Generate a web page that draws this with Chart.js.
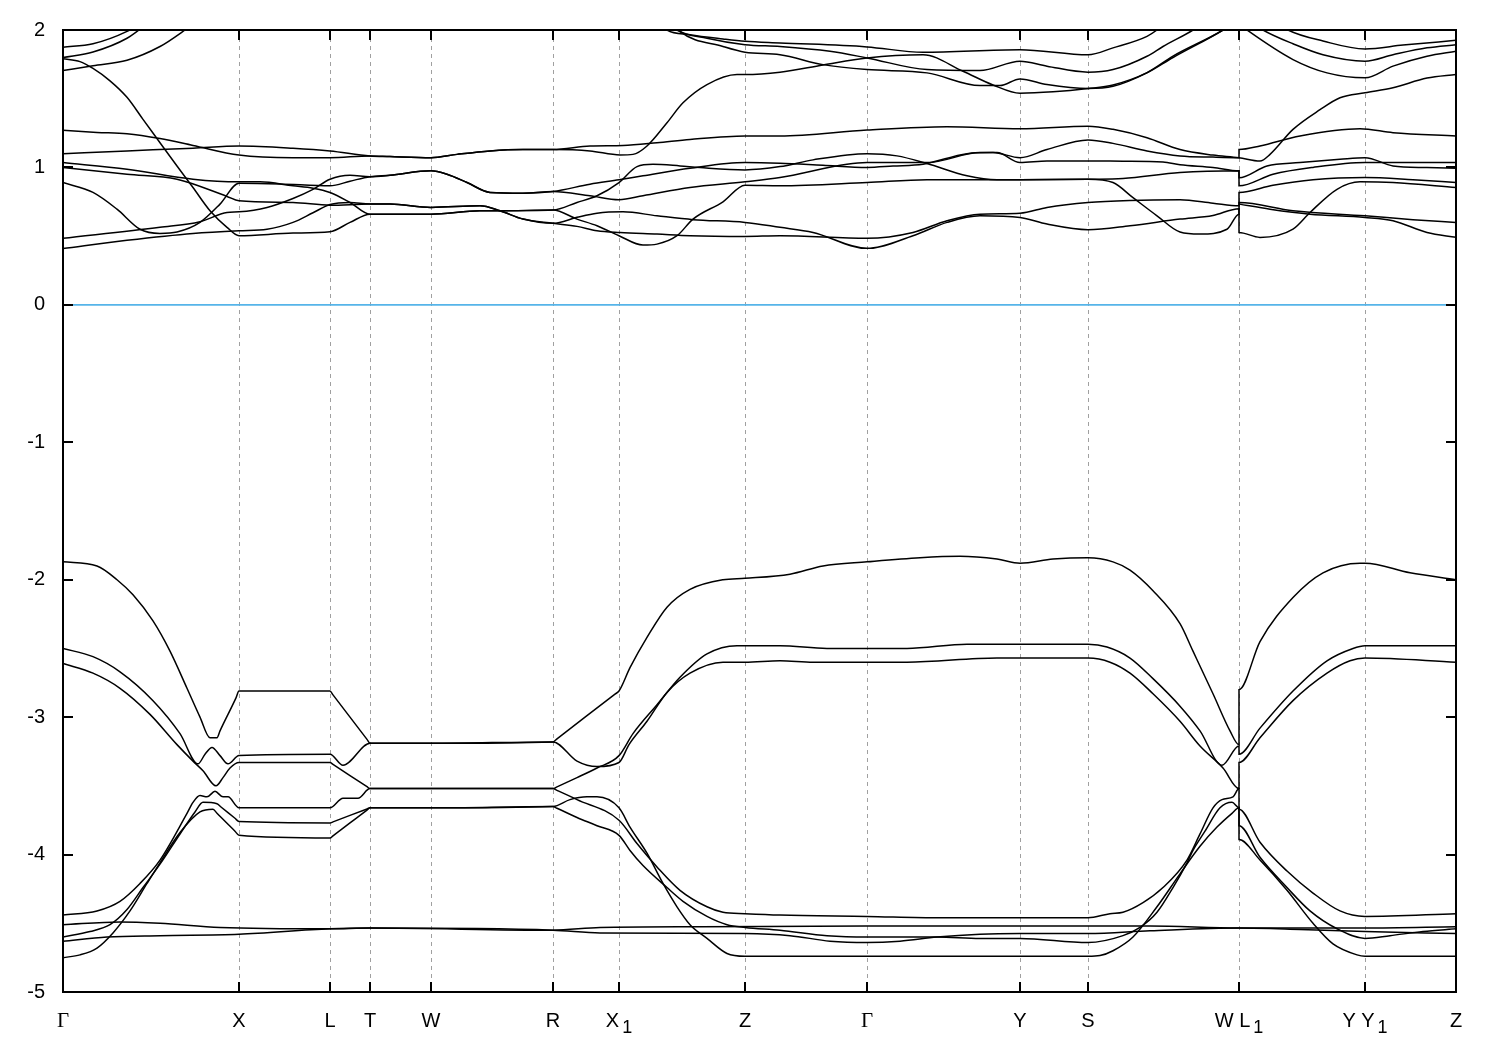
<!DOCTYPE html>
<html><head><meta charset="utf-8">
<script src="https://cdn.jsdelivr.net/npm/chart.js@4.4.1/dist/chart.umd.min.js"></script>
<style>html,body{margin:0;padding:0;background:#fff}#wrap{width:1500px;height:1050px}</style>
</head><body><div id="wrap"><canvas id="c" width="1500" height="1050"></canvas></div>
<script>
// high-symmetry path positions and labels
const kPos = [0,176,267,307,368,490,556,682,804,957,1025,1176,1302,1393];
const kNames = ['Γ','X','L','T','W','R','X₁','Z','Γ','Y','S','W L₁','Y Y₁','Z'];
const yTicks = [-5,-4,-3,-2,-1,0,1,2];
const fermiLevel = 0;

// valence bands [k, E]
const vb1 = [[0,-1.87],[34,-1.90],[54,-2.00],[70,-2.11],[90,-2.30],[107,-2.52],[124,-2.79],[137,-3.00],[147,-3.15],[154,-3.15],[157,-3.10],[173,-2.86],[176,-2.81],[267,-2.81],[270,-2.838],[304,-3.162],[307,-3.19],[368,-3.19],[490,-3.18],[494,-3.158],[552,-2.832],[556,-2.81],[567,-2.64],[584,-2.42],[604,-2.20],[627,-2.07],[660,-2.00],[682,-1.99],[727,-1.96],[760,-1.90],[804,-1.87],[857,-1.84],[897,-1.83],[934,-1.85],[957,-1.88],[990,-1.85],[1025,-1.84],[1050,-1.87],[1067,-1.93],[1090,-2.08],[1117,-2.32],[1130,-2.52],[1150,-2.83],[1167,-3.10],[1176,-3.20],[1176,-2.80],[1197,-2.45],[1230,-2.13],[1260,-1.95],[1297,-1.88],[1302,-1.88],[1347,-1.95],[1393,-2.00]];
const vb2 = [[0,-2.50],[30,-2.56],[57,-2.67],[90,-2.88],[117,-3.12],[135,-3.34],[142,-3.27],[149,-3.22],[157,-3.28],[165,-3.34],[176,-3.28],[267,-3.27],[280,-3.35],[307,-3.19],[368,-3.19],[490,-3.18],[514,-3.32],[534,-3.36],[556,-3.33],[566,-3.20],[584,-3.03],[604,-2.82],[627,-2.68],[660,-2.60],[682,-2.60],[717,-2.59],[750,-2.60],[844,-2.60],[934,-2.57],[1025,-2.57],[1047,-2.60],[1067,-2.68],[1090,-2.83],[1117,-3.03],[1137,-3.21],[1160,-3.37],[1176,-3.52],[1176,-3.33],[1197,-3.15],[1230,-2.88],[1264,-2.68],[1287,-2.59],[1302,-2.57],[1393,-2.60]];
const vb3 = [[0,-2.61],[30,-2.68],[57,-2.79],[87,-2.98],[114,-3.20],[130,-3.32],[140,-3.39],[153,-3.50],[160,-3.44],[167,-3.37],[176,-3.33],[267,-3.33],[270,-3.344],[304,-3.506],[307,-3.52],[368,-3.52],[490,-3.52],[494,-3.507],[514,-3.44],[534,-3.37],[556,-3.28],[570,-3.12],[594,-2.91],[617,-2.71],[644,-2.54],[674,-2.48],[682,-2.48],[717,-2.48],[764,-2.50],[844,-2.50],[904,-2.47],[1025,-2.47],[1044,-2.49],[1067,-2.57],[1090,-2.72],[1117,-2.92],[1137,-3.10],[1159,-3.35],[1176,-3.21],[1176,-3.27],[1197,-3.08],[1230,-2.81],[1264,-2.59],[1290,-2.50],[1302,-2.48],[1393,-2.48]];
const vb4 = [[0,-4.44],[34,-4.41],[57,-4.34],[77,-4.21],[97,-4.04],[124,-3.70],[130,-3.62],[137,-3.57],[144,-3.58],[152,-3.54],[160,-3.58],[165,-3.58],[176,-3.66],[267,-3.66],[280,-3.59],[295,-3.59],[307,-3.52],[368,-3.52],[490,-3.52],[494,-3.533],[514,-3.60],[556,-3.75],[574,-3.92],[594,-4.09],[617,-4.26],[644,-4.38],[660,-4.42],[682,-4.43],[717,-4.44],[804,-4.45],[877,-4.46],[1025,-4.46],[1047,-4.43],[1060,-4.42],[1080,-4.35],[1100,-4.24],[1124,-4.04],[1137,-3.85],[1150,-3.66],[1159,-3.60],[1170,-3.58],[1176,-3.52],[1176,-3.67],[1197,-3.91],[1224,-4.12],[1250,-4.28],[1277,-4.41],[1302,-4.45],[1393,-4.43]];
const vb5 = [[0,-4.60],[27,-4.56],[47,-4.51],[64,-4.40],[80,-4.24],[97,-4.07],[117,-3.85],[132,-3.69],[140,-3.62],[154,-3.63],[158,-3.654],[172,-3.736],[176,-3.76],[267,-3.77],[270,-3.762],[304,-3.668],[307,-3.66],[368,-3.66],[490,-3.65],[507,-3.60],[524,-3.58],[534,-3.58],[556,-3.66],[567,-3.80],[584,-3.99],[600,-4.21],[614,-4.38],[627,-4.51],[644,-4.61],[664,-4.72],[682,-4.74],[804,-4.74],[1025,-4.74],[1037,-4.735],[1050,-4.70],[1070,-4.60],[1094,-4.38],[1117,-4.14],[1137,-3.94],[1154,-3.80],[1169,-3.70],[1176,-3.66],[1176,-3.89],[1197,-4.04],[1224,-4.26],[1250,-4.50],[1270,-4.65],[1294,-4.73],[1302,-4.74],[1393,-4.74]];
const vb6 = [[0,-4.75],[17,-4.73],[34,-4.68],[50,-4.57],[67,-4.41],[84,-4.21],[97,-4.06],[117,-3.84],[137,-3.69],[150,-3.67],[154,-3.70],[172,-3.83],[176,-3.86],[267,-3.88],[270,-3.864],[304,-3.676],[307,-3.66],[368,-3.66],[490,-3.65],[494,-3.663],[514,-3.73],[534,-3.79],[556,-3.86],[567,-3.97],[580,-4.08],[604,-4.24],[620,-4.34],[644,-4.45],[664,-4.51],[682,-4.53],[717,-4.55],[764,-4.59],[804,-4.60],[874,-4.60],[917,-4.61],[957,-4.61],[1025,-4.64],[1060,-4.59],[1077,-4.53],[1094,-4.42],[1110,-4.24],[1124,-4.06],[1130,-3.97],[1142,-3.83],[1157,-3.66],[1169,-3.62],[1176,-3.66],[1176,-3.79],[1197,-4.02],[1224,-4.24],[1247,-4.41],[1274,-4.54],[1302,-4.61],[1327,-4.59],[1360,-4.56],[1393,-4.54]];
const vb7 = [[0,-4.51],[57,-4.49],[97,-4.50],[157,-4.53],[267,-4.54],[307,-4.535],[490,-4.55],[537,-4.53],[637,-4.525],[804,-4.52],[1087,-4.52],[1176,-4.535],[1302,-4.535],[1393,-4.525]];
const vb8 = [[0,-4.63],[44,-4.60],[97,-4.59],[176,-4.58],[267,-4.54],[307,-4.535],[490,-4.55],[537,-4.57],[682,-4.575],[727,-4.59],[767,-4.63],[804,-4.64],[837,-4.63],[874,-4.60],[917,-4.58],[957,-4.575],[1025,-4.575],[1087,-4.555],[1176,-4.535],[1237,-4.545],[1302,-4.56],[1393,-4.575]];

// conduction bands [k, E]
const cb1 = [[0,0.41],[64,0.47],[130,0.52],[176,0.54],[204,0.55],[230,0.60],[250,0.67],[267,0.73],[287,0.745],[307,0.733],[327,0.733],[368,0.709],[417,0.721],[437,0.685],[460,0.624],[490,0.593],[514,0.571],[534,0.54],[557,0.527],[594,0.515],[627,0.503],[682,0.498],[717,0.503],[804,0.484],[850,0.527],[884,0.612],[917,0.66],[957,0.667],[984,0.709],[1025,0.745],[1067,0.76],[1117,0.765],[1150,0.74],[1176,0.721],[1176,0.745],[1230,0.685],[1302,0.648],[1350,0.62],[1393,0.60]];
const cb2 = [[0,0.484],[97,0.564],[137,0.605],[164,0.672],[176,0.677],[204,0.709],[230,0.774],[250,0.84],[267,0.914],[287,0.943],[307,0.933],[327,0.943],[368,0.975],[384,0.95],[404,0.89],[427,0.818],[460,0.812],[490,0.825],[527,0.878],[556,0.91],[580,0.939],[627,0.994],[682,1.035],[717,1.03],[760,1.015],[804,1.0],[830,1.01],[860,1.023],[904,1.10],[930,1.108],[957,1.071],[984,1.13],[1025,1.20],[1050,1.175],[1084,1.12],[1117,1.084],[1150,1.075],[1176,1.071],[1176,1.13],[1197,1.156],[1237,1.229],[1297,1.282],[1330,1.253],[1393,1.229]];
const cb3 = [[0,0.89],[30,0.818],[54,0.696],[77,0.55],[97,0.52],[114,0.53],[137,0.60],[157,0.733],[176,0.885],[217,0.88],[267,0.866],[287,0.90],[307,0.933],[327,0.943],[368,0.975],[384,0.95],[404,0.89],[427,0.818],[460,0.812],[490,0.825],[527,0.794],[556,0.765],[580,0.794],[627,0.854],[682,0.895],[717,0.926],[784,1.023],[804,1.035],[864,1.035],[917,1.108],[934,1.108],[957,1.035],[984,1.047],[1025,1.047],[1060,1.045],[1100,1.04],[1117,1.02],[1150,1.0],[1176,0.975],[1176,0.925],[1204,1.011],[1237,1.035],[1277,1.059],[1302,1.071],[1330,1.011],[1364,0.999],[1393,0.994]];
const cb4 = [[0,1.0],[64,0.95],[114,0.914],[164,0.789],[176,0.757],[230,0.745],[267,0.725],[307,0.733],[327,0.733],[368,0.709],[417,0.721],[437,0.685],[460,0.624],[490,0.593],[514,0.637],[534,0.667],[560,0.677],[594,0.648],[630,0.62],[682,0.60],[717,0.564],[750,0.527],[804,0.411],[850,0.503],[884,0.60],[917,0.648],[957,0.636],[984,0.588],[1025,0.547],[1067,0.576],[1117,0.624],[1150,0.65],[1176,0.70],[1176,0.527],[1197,0.491],[1230,0.551],[1247,0.672],[1274,0.841],[1297,0.895],[1330,0.89],[1393,0.854]];
const cb5 = [[0,1.035],[64,0.987],[130,0.914],[176,0.895],[197,0.895],[230,0.866],[250,0.849],[267,0.818],[287,0.745],[307,0.66],[368,0.66],[417,0.685],[437,0.685],[490,0.69],[514,0.745],[534,0.794],[556,0.89],[574,1.006],[590,1.023],[617,1.011],[637,0.999],[682,0.982],[717,1.006],[750,1.055],[804,1.10],[834,1.084],[864,1.028],[904,0.939],[934,0.91],[957,0.91],[1025,0.914],[1060,0.92],[1117,0.963],[1176,0.975],[1176,0.866],[1210,0.95],[1250,1.0],[1302,1.035],[1350,1.035],[1393,1.035]];
const cb6 = [[0,1.10],[64,1.12],[130,1.14],[176,1.156],[230,1.14],[267,1.12],[307,1.084],[327,1.079],[368,1.071],[394,1.095],[427,1.12],[460,1.13],[490,1.13],[527,1.12],[557,1.091],[570,1.095],[584,1.156],[604,1.325],[620,1.47],[644,1.603],[674,1.676],[682,1.676],[717,1.693],[760,1.746],[804,1.797],[860,1.82],[900,1.70],[930,1.60],[957,1.54],[990,1.55],[1025,1.574],[1050,1.60],[1084,1.69],[1110,1.81],[1160,2.0],[1170,2.05]];
const cb7 = [[0,1.27],[34,1.255],[64,1.245],[97,1.21],[130,1.16],[176,1.09],[230,1.071],[267,1.071],[307,1.084],[327,1.079],[368,1.071],[394,1.095],[427,1.12],[460,1.13],[490,1.13],[527,1.156],[560,1.16],[594,1.18],[627,1.204],[682,1.229],[717,1.229],[804,1.272],[884,1.296],[957,1.282],[1025,1.30],[1050,1.277],[1084,1.216],[1117,1.13],[1150,1.09],[1176,1.071],[1197,1.047],[1207,1.095],[1230,1.277],[1257,1.42],[1277,1.507],[1302,1.543],[1330,1.58],[1364,1.65],[1393,1.676]];
const cb8 = [[0,1.79],[17,1.77],[30,1.72],[47,1.63],[64,1.51],[80,1.35],[97,1.18],[114,1.01],[130,0.854],[147,0.685],[164,0.564],[176,0.503],[230,0.522],[267,0.532],[287,0.60],[307,0.66],[368,0.66],[417,0.685],[437,0.685],[490,0.69],[514,0.624],[534,0.576],[556,0.503],[580,0.435],[594,0.442],[614,0.503],[630,0.624],[660,0.75],[682,0.87],[717,0.866],[804,0.89],[864,0.91],[957,0.91],[1025,0.914],[1050,0.89],[1070,0.78],[1094,0.648],[1117,0.53],[1137,0.515],[1164,0.55],[1176,0.66],[1176,0.818],[1210,0.87],[1250,0.91],[1302,0.926],[1350,0.91],[1393,0.89]];
const cb9 = [[0,1.705],[30,1.74],[64,1.78],[97,1.88],[120,1.99],[140,2.1]];
const cb10 = [[0,1.80],[30,1.84],[64,1.94],[85,2.05]];
const cb11 = [[0,1.875],[30,1.90],[64,1.99],[80,2.06]];
const cb12 = [[590,2.1],[604,2.0],[627,1.966],[660,1.935],[682,1.918],[717,1.906],[804,1.877],[860,1.838],[957,1.857],[1025,1.82],[1050,1.87],[1084,1.954],[1094,2.0],[1110,2.1]];
const cb13 = [[600,2.1],[614,2.0],[644,1.94],[682,1.893],[717,1.88],[767,1.845],[804,1.797],[864,1.712],[917,1.705],[957,1.773],[984,1.737],[1025,1.693],[1050,1.712],[1084,1.809],[1100,1.88],[1130,2.0],[1140,2.05]];
const cb14 = [[605,2.1],[617,1.99],[660,1.88],[682,1.838],[717,1.82],[760,1.748],[804,1.712],[864,1.688],[917,1.596],[937,1.596],[957,1.644],[984,1.603],[1025,1.574],[1050,1.59],[1084,1.688],[1110,1.80],[1160,2.0],[1170,2.05]];
const cb15 = [[1190,2.05],[1200,2.0],[1230,1.90],[1260,1.82],[1302,1.773],[1330,1.82],[1364,1.87],[1393,1.893]];
const cb16 = [[1215,2.05],[1225,2.0],[1260,1.92],[1302,1.862],[1340,1.89],[1393,1.925]];
const cb17 = [[1175,2.05],[1184,2.0],[1230,1.785],[1264,1.688],[1302,1.652],[1330,1.737],[1364,1.809],[1393,1.845]];
const cb18 = [[1176,0.733],[1207,0.696],[1247,0.66],[1302,0.636],[1330,0.612],[1364,0.527],[1393,0.491]];

const bands = [vb1,vb2,vb3,vb4,vb5,vb6,vb7,vb8,cb1,cb2,cb3,cb4,cb5,cb6,cb7,cb8,cb9,cb10,cb11,cb12,cb13,cb14,cb15,cb16,cb17,cb18];

const datasets = [{
  data: [{x:kPos[0],y:fermiLevel},{x:kPos[kPos.length-1],y:fermiLevel}],
  borderColor:'#56B4E9', borderWidth:1.6, pointRadius:0, tension:0, fill:false
}].concat(bands.map(b => ({
  data: b.map(p => ({x:p[0], y:p[1]})),
  borderColor:'#000', borderWidth:1.5, pointRadius:0, fill:false,
  cubicInterpolationMode:'monotone'
})));

function drawLabel(ctx, text, cx, base){
  const segs = [];
  for (const ch of text){
    const sub = ch === '₁';
    const t = sub ? '1' : ch;
    const last = segs[segs.length-1];
    if (last && last.sub === sub && !sub && ch !== 'Γ' && last.t !== 'Γ') last.t += t;
    else segs.push({t, sub});
  }
  const fontFor = s => s.sub ? '18px "Liberation Sans"' : (s.t === 'Γ' ? '21px "Liberation Serif"' : '20px "Liberation Sans"');
  let total = 0;
  segs.forEach(s => { ctx.font = fontFor(s); s.w = ctx.measureText(s.t).width + (s.sub ? 3 : 0); total += s.w; });
  let xx = cx - total/2;
  segs.forEach(s => { ctx.font = fontFor(s); ctx.fillText(s.t, xx + (s.sub ? 3 : 0), base + (s.sub ? 6 : 0)); xx += s.w; });
}

const frame = {
  id:'frame',
  beforeDatasetsDraw(chart){
    const {ctx, chartArea:a, scales:{x}} = chart;
    ctx.save();
    ctx.strokeStyle = '#a0a0a0'; ctx.lineWidth = 1; ctx.setLineDash([4,4]);
    kPos.forEach(k => {
      const px = Math.round(x.getPixelForValue(k)) + 0.5;
      if (px <= a.left + 2 || px >= a.right - 2) return;
      ctx.beginPath(); ctx.moveTo(px, a.top); ctx.lineTo(px, a.bottom); ctx.stroke();
    });
    ctx.restore();
  },
  afterDatasetsDraw(chart){
    const {ctx, chartArea:a, scales:{x, y}} = chart;
    ctx.save();
    ctx.strokeStyle = '#000'; ctx.lineWidth = 2; ctx.setLineDash([]);
    ctx.strokeRect(a.left, a.top, a.right - a.left, a.bottom - a.top);
    ctx.beginPath();
    yTicks.forEach(v => {
      const py = Math.round(y.getPixelForValue(v));
      ctx.moveTo(a.left, py); ctx.lineTo(a.left + 10, py);
      ctx.moveTo(a.right, py); ctx.lineTo(a.right - 10, py);
    });
    kPos.forEach(k => {
      const px = Math.round(x.getPixelForValue(k));
      ctx.moveTo(px, a.bottom); ctx.lineTo(px, a.bottom - 10);
      ctx.moveTo(px, a.top); ctx.lineTo(px, a.top + 10);
    });
    ctx.stroke();
    ctx.fillStyle = '#000'; ctx.textBaseline = 'alphabetic';
    kNames.forEach((n, i) => drawLabel(ctx, n, x.getPixelForValue(kPos[i]), 1027));
    ctx.restore();
  }
};

new Chart(document.getElementById('c'), {
  type:'line',
  data:{datasets},
  options:{
    responsive:false, animation:false, events:[],
    layout:{padding:{left:0, right:44, top:27, bottom:0}},
    plugins:{legend:{display:false}, tooltip:{enabled:false}},
    scales:{
      x:{type:'linear', min:kPos[0], max:kPos[kPos.length-1],
         ticks:{display:false}, grid:{display:false, drawTicks:false}, border:{display:false},
         afterFit(s){ s.height = 58; }},
      y:{type:'linear', min:yTicks[0], max:yTicks[yTicks.length-1],
         ticks:{stepSize:1, color:'#000', padding:18, font:{family:'Liberation Sans', size:20}},
         grid:{display:false, drawTicks:false}, border:{display:false},
         afterFit(s){ s.width = 63; }}
    }
  },
  plugins:[frame]
});
</script></body></html>
